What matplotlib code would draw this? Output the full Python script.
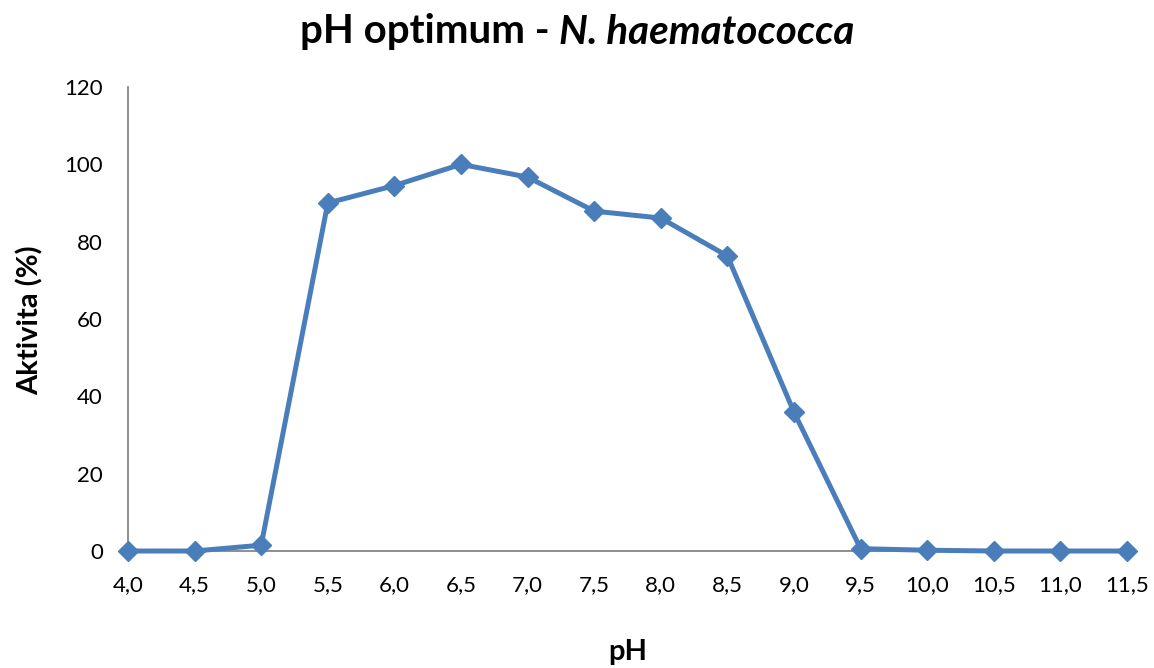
import matplotlib
matplotlib.use("Agg")
import matplotlib.pyplot as plt

ph_labels = ["4,0", "4,5", "5,0", "5,5", "6,0", "6,5", "7,0", "7,5",
             "8,0", "8,5", "9,0", "9,5", "10,0", "10,5", "11,0", "11,5"]
activity = [0, 0, 1.5, 90, 94.5, 100, 96.7, 87.9, 86.1, 76.3, 35.9, 0.6, 0.2, 0, 0, 0]
y_ticks = [0, 20, 40, 60, 80, 100, 120]

plt.rcParams['font.family'] = ['Lato', 'DejaVu Sans']

fig = plt.figure(figsize=(11.54, 6.68), dpi=100)
ax = fig.add_axes([128/1154, 1-551/668, (1127-128)/1154, (551-87)/668])

x = list(range(len(ph_labels)))
ax.plot(x, activity, color='#4A7EBB', linewidth=3.6, marker='D', markersize=10.5,
        markerfacecolor='#4A7EBB', markeredgecolor='#4A7EBB', clip_on=False, zorder=3)

ax.set_xlim(0, len(ph_labels) - 1)
ax.set_ylim(0, 120)
ax.set_xticks(x)
ax.set_xticklabels(ph_labels, fontsize=16)
ax.set_yticks(y_ticks)
ax.set_yticklabels([str(v) for v in y_ticks], fontsize=16)
ax.tick_params(axis='x', length=0, pad=17)
ax.tick_params(axis='y', length=0, pad=18)
for s in ['top', 'right']:
    ax.spines[s].set_visible(False)
for s in ['left', 'bottom']:
    ax.spines[s].set_color('#868686')
    ax.spines[s].set_linewidth(1.3)

fig.text(30/1154, 1-320/668, 'Aktivita (%)', rotation=90, fontsize=21, fontweight='bold',
         ha='center', va='center')
fig.text(628/1154, 1-652/668, 'pH', fontsize=21, fontweight='bold', ha='center', va='center')

# Title with mixed styles
fig.canvas.draw()
r = fig.canvas.get_renderer()
t1 = fig.text(0, 1-32/668, 'pH optimum - ', fontsize=29, fontweight='bold', ha='left', va='center')
t2 = fig.text(0, 1-32/668, 'N. haematococca', fontsize=29, fontweight='bold', style='italic',
              ha='left', va='center')
w1 = t1.get_window_extent(r).width
w2 = t2.get_window_extent(r).width
total = w1 + w2
start = 577 - total / 2
t1.set_x(start / 1154)
t2.set_x((start + w1) / 1154)

fig.savefig('out.png', dpi=100)
